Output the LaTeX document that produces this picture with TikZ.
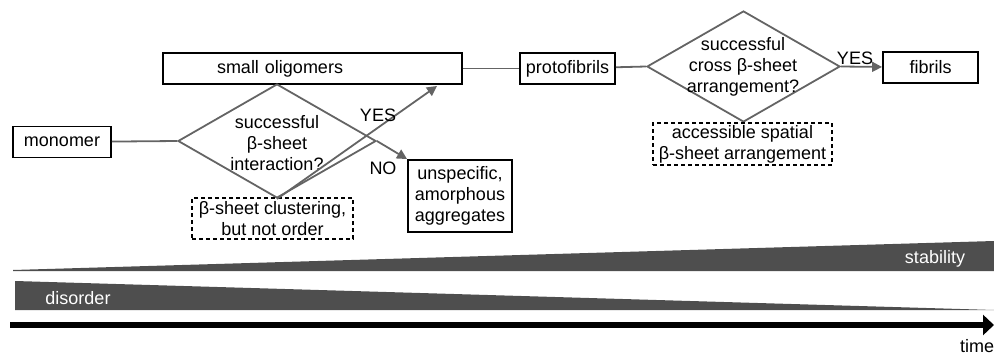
\documentclass[tikz,border=0pt]{standalone}
\usepackage{fontspec}
\setmainfont{Liberation Sans}
\usepackage{tikz}
\usetikzlibrary{shapes.geometric,arrows.meta,positioning,calc}
\definecolor{linegray}{RGB}{100,100,100}
\definecolor{wedgegray}{RGB}{78,78,78}

\begin{document}
\begin{tikzpicture}[
    x=1pt, y=-1pt,
    every node/.style={font=\fontsize{18}{21}\selectfont},
    box/.style={draw=black, line width=1.9pt, minimum height=31pt, inner sep=2pt},
    note/.style={draw=black, dash pattern=on 4pt off 3pt, line width=1.5pt, inner xsep=0pt, inner ysep=1pt, align=center},
    decision/.style={diamond, draw=linegray, line width=1.8pt, inner sep=0pt},
    link/.style={draw=linegray, line width=1.8pt},
    arrow/.style={link, -{Triangle[length=10pt,width=10pt]}},
    yesno/.style={inner sep=0pt}
]
    \useasboundingbox (0,0) rectangle (994,356);

    % Boxes
    \node[box, minimum width=98pt] (mono) at (62,142) {monomer};
    \node[box, text width=191pt, inner xsep=54pt, align=left] (olig) at (312.5,68.5) {small oligomers};
    \node[box, minimum width=95pt] (proto) at (567.5,68.5) {protofibrils};
    \node[box, minimum width=95pt] (fib) at (930.5,67.5) {fibrils};
    \node[box, minimum width=104pt, minimum height=72pt, align=center] (aggr) at (460,196) {unspecific,\\amorphous\\aggregates};

    % Decisions
    \node[decision, minimum width=198pt, minimum height=114pt] (dec1) at (277,141) {};
    \node[align=center] (dec1txt) at (277,143) {successful\\β-sheet\\interaction?};
    \node[decision, minimum width=193pt, minimum height=111pt] (dec2) at (743.5,66.5) {};
    \node[align=center] (dec2txt) at (743,67) {successful\\cross β-sheet\\arrangement?};

    % Notes
    \node[note, minimum width=161pt, minimum height=41pt] (clust) at (272.5,218.5) {β-sheet clustering,\\but not order};
    \node[note, minimum width=179pt, minimum height=42pt] (spatial) at (742.5,144) {accessible spatial\\β-sheet arrangement};

    % Connections
    \coordinate (yestip) at (437,86);
    \draw[link] (mono) -- (dec1.west);
    \draw[link] (olig) -- (proto);
    \draw[link] (proto) -- (dec2.west);
    \draw[arrow] (dec2.east) -- (fib);
    \draw[arrow] (dec1.south) -- (yestip);
    \draw[arrow] (dec1.east) -- (aggr.north west);

    % Labels
    \node[yesno] (yes1) at (378,115) {YES};
    \node[yesno] (no1) at (383,168) {NO};
    \node[yesno] (yes2) at (855,58) {YES};

    % Stability and disorder
    \fill[wedgegray] (13,270) -- (994,241) -- (994,271) -- (13,271) -- cycle;
    \fill[wedgegray] (15,281) -- (15,310) -- (994,310) -- cycle;
    \node[text=white] (stab) at (935,259) {stability};
    \node[text=white] (disord) at (78,298) {disorder};

    % Time axis
    \coordinate (tstart) at (10,325);
    \coordinate (tend) at (994,325);
    \draw[line width=6pt, -{Triangle[length=11pt,width=20pt]}] (tstart) -- (tend);
    \node (timelbl) at (977,346) {time};
\end{tikzpicture}
\end{document}
